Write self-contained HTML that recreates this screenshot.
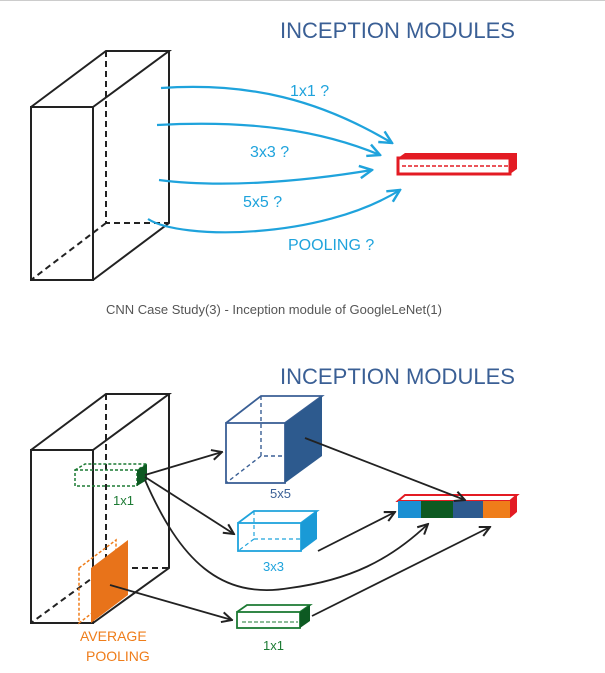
<!DOCTYPE html>
<html><head><meta charset="utf-8"><style>
html,body{margin:0;padding:0;background:#fff;width:605px;height:673px;overflow:hidden}
svg{display:block}
text{font-family:"Liberation Sans",sans-serif}
</style></head><body>
<svg width="605" height="673" viewBox="0 0 605 673">
<defs>
<marker id="ab" viewBox="0 0 10 10" refX="9" refY="5" markerWidth="7" markerHeight="7" orient="auto"><path d="M1,1 L9,5 L1,9" fill="none" stroke="#1fa3dc" stroke-width="1.6"/></marker>
<marker id="ak" viewBox="0 0 10 10" refX="9" refY="5" markerWidth="7" markerHeight="7" orient="auto"><path d="M1,1 L9,5 L1,9" fill="none" stroke="#222" stroke-width="1.6"/></marker>
</defs>
<line x1="0" y1="0.5" x2="605" y2="0.5" stroke="#ccc"/>

<g>
<text x="280" y="38" fill="#3a5f95" font-size="22" textLength="235" lengthAdjust="spacingAndGlyphs">INCEPTION  MODULES</text>
<g fill="none" stroke="#222" stroke-width="2">
<rect x="31" y="107" width="62" height="173"/>
<path d="M31,107 L106,51 L169,51 L93,107 M169,51 L169,223 L93,280"/>
<path d="M106,51 L106,223 L169,223 M106,223 L31,280" stroke-dasharray="6,4"/>
</g>
<g fill="none" stroke="#1fa3dc" stroke-width="2.2" marker-end="url(#ab)">
<path d="M161,88 C250,82 320,100 392,143"/>
<path d="M157,125 C250,120 320,130 380,155"/>
<path d="M159,180 C220,188 300,182 372,170"/>
<path d="M148,219 C180,240 320,240 400,190"/>
</g>
<g fill="#1fa3dc" font-size="16">
<text x="290" y="96">1x1 ?</text>
<text x="250" y="157">3x3 ?</text>
<text x="243" y="207">5x5 ?</text>
<text x="288" y="250">POOLING ?</text>
</g>
<g>
<rect x="398" y="158" width="112" height="16" fill="#fff" stroke="#e31b23" stroke-width="3"/>
<path d="M398,158 L405,153 L517,153 L510,158Z M510,158 L517,153 L517,169 L510,174Z" fill="#e31b23"/>
<line x1="402" y1="166" x2="508" y2="166" stroke="#e31b23" stroke-dasharray="4,2" stroke-width="1.5"/>
</g>
</g>
<text x="274" y="314" text-anchor="middle" fill="#555" font-size="13">CNN Case Study(3) - Inception module of GoogleLeNet(1)</text>

<g>
<text x="280" y="384" fill="#3a5f95" font-size="22" textLength="235" lengthAdjust="spacingAndGlyphs">INCEPTION  MODULES</text>
<g fill="none" stroke="#222" stroke-width="2">
<rect x="31" y="450" width="62" height="173"/>
<path d="M31,450 L106,394 L169,394 L93,450 M169,394 L169,568 L93,623"/>
<path d="M106,394 L106,568 L169,568 M106,568 L31,623" stroke-dasharray="6,4"/>
</g>
<g>
<rect x="75" y="470" width="62" height="16" fill="none" stroke="#1c7a33" stroke-width="1.5" stroke-dasharray="3,2"/>
<path d="M75,470 L85,464 L147,464 L137,470" fill="none" stroke="#1c7a33" stroke-width="1.5" stroke-dasharray="3,2"/>
<path d="M137,470 L147,464 L147,480 L137,486Z" fill="#0d5a22"/>
<text x="113" y="505" fill="#1c7a33" font-size="13">1x1</text>
</g>
<g>
<path d="M79,568 L116,540 L116,595 L79,623Z" fill="none" stroke="#ef7d1a" stroke-width="1.5" stroke-dasharray="3,2"/>
<path d="M91,568 L128,540 L128,595 L91,623Z" fill="#e8731a"/>
<text x="80" y="641" fill="#ef7d1a" font-size="14">AVERAGE</text>
<text x="86" y="661" fill="#ef7d1a" font-size="14">POOLING</text>
</g>
<g>
<rect x="226" y="423" width="59" height="60" fill="none" stroke="#3a5f95" stroke-width="1.8"/>
<path d="M226,423 L261,396 L322,396 L285,423" fill="none" stroke="#3a5f95" stroke-width="1.8"/>
<path d="M285,423 L322,396 L322,456 L285,483Z" fill="#2d5a8e"/>
<path d="M261,396 L261,456 L285,456 M261,456 L226,483" fill="none" stroke="#3a5f95" stroke-width="1.4" stroke-dasharray="4,3"/>
<text x="270" y="498" fill="#3a5f95" font-size="13">5x5</text>
</g>
<g>
<rect x="238" y="523" width="63" height="28" fill="none" stroke="#1fa3dc" stroke-width="1.8"/>
<path d="M238,523 L254,511 L317,511 L301,523" fill="none" stroke="#1fa3dc" stroke-width="1.8"/>
<path d="M301,523 L317,511 L317,539 L301,551Z" fill="#1a9ad6"/>
<path d="M254,511 L254,539 L301,539 M254,539 L238,551" fill="none" stroke="#1fa3dc" stroke-width="1.2" stroke-dasharray="4,3"/>
<text x="263" y="571" fill="#1fa3dc" font-size="13">3x3</text>
</g>
<g>
<rect x="237" y="612" width="63" height="16" fill="none" stroke="#1c7a33" stroke-width="1.8"/>
<path d="M237,612 L247,605 L310,605 L300,612" fill="none" stroke="#1c7a33" stroke-width="1.8"/>
<path d="M300,612 L310,605 L310,621 L300,628Z" fill="#0d5a22"/>
<line x1="242" y1="622" x2="298" y2="622" stroke="#1c7a33" stroke-dasharray="4,2"/>
<text x="263" y="650" fill="#1c7a33" font-size="13">1x1</text>
</g>
<g>
<path d="M398,501 L405,495 L517,495 L510,501Z" fill="#fff" stroke="#e31b23" stroke-width="2"/>
<rect x="398" y="501" width="23" height="17" fill="#1b8fd2"/>
<rect x="421" y="501" width="32" height="17" fill="#0d5a22"/>
<rect x="453" y="501" width="30" height="17" fill="#2d5a8e"/>
<rect x="483" y="501" width="27" height="17" fill="#ef7d1a"/>
<path d="M510,501 L517,495 L517,512 L510,518Z" fill="#e31b23"/>
</g>
<g fill="none" stroke="#222" stroke-width="1.8" marker-end="url(#ak)">
<path d="M145,475 L222,452"/>
<path d="M145,477 L234,534"/>
<path d="M145,480 C180,560 220,600 290,588 C350,580 390,560 428,524"/>
<path d="M110,585 L232,620"/>
<path d="M305,438 L465,500"/>
<path d="M318,551 L395,512"/>
<path d="M312,616 L490,527"/>
</g>
</g>
</svg>
</body></html>
